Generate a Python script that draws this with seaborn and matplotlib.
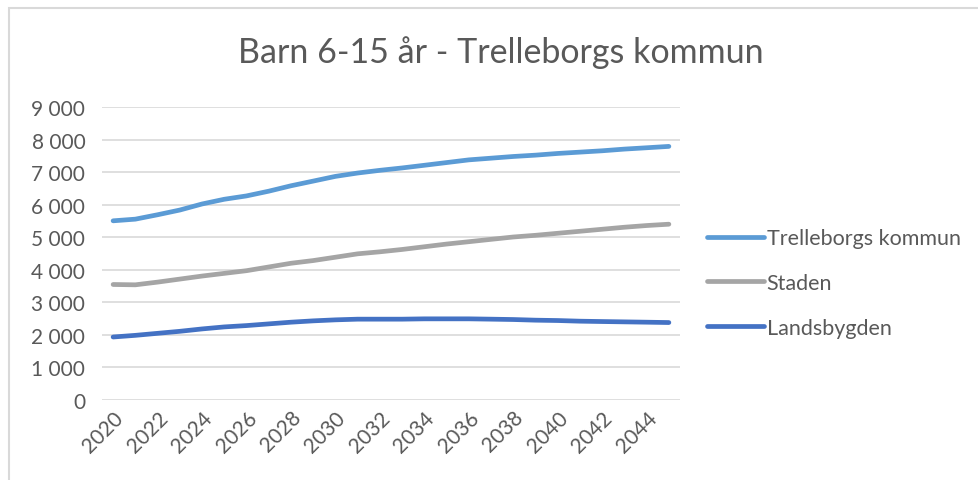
import numpy as np
import pandas as pd
import matplotlib
matplotlib.use("Agg")
import matplotlib.pyplot as plt
import seaborn as sns
from matplotlib.patches import Rectangle
from matplotlib.ticker import FuncFormatter

sns.set_theme(style="white")
plt.rcParams["font.family"] = ["Lato", "DejaVu Sans"]

# data
years = list(range(2020, 2046))
trelleborg = [5504, 5555, 5690, 5835, 6021, 6166, 6269, 6414, 6580, 6724, 6869, 6972, 7055,
              7128, 7210, 7293, 7376, 7428, 7480, 7521, 7573, 7614, 7655, 7707, 7748, 7790]
staden = [3548, 3538, 3621, 3714, 3807, 3890, 3972, 4086, 4200, 4283, 4386, 4490, 4552,
          4624, 4707, 4790, 4862, 4935, 5007, 5059, 5121, 5183, 5245, 5307, 5359, 5400]
landsbygden = [1935, 1986, 2048, 2110, 2183, 2245, 2286, 2338, 2390, 2431, 2462, 2483, 2483,
               2483, 2493, 2493, 2493, 2483, 2472, 2452, 2441, 2421, 2410, 2400, 2390, 2379]
series = ["Trelleborgs kommun", "Staden", "Landsbygden"]
colors = ["#5B9BD5", "#A5A5A5", "#4472C4"]

df = pd.DataFrame({"year": years, series[0]: trelleborg, series[1]: staden, series[2]: landsbygden})
long = df.melt(id_vars="year", var_name="serie", value_name="antal")
long["pos"] = long["year"] - years[0]

txt = "#595959"
fig = plt.figure(figsize=(9.79, 4.81), dpi=100)
fig.patches.append(Rectangle((9/979, -0.1), 1.1, 1 - 9/481 + 0.1, transform=fig.transFigure,
                             fill=False, edgecolor="#D9D9D9", linewidth=1.5))
ax = fig.add_axes([102/979, 1 - 401/481, (680 - 102)/979, (401 - 108)/481])

sns.lineplot(data=long, x="pos", y="antal", hue="serie", hue_order=series, palette=colors,
             linewidth=3.4, ax=ax, legend=False, solid_capstyle="round")

ax.set_xlim(-0.5, len(years) - 0.5)
ax.set_ylim(0, 9000)
ax.set_yticks(np.arange(0, 9001, 1000))
ax.yaxis.set_major_formatter(FuncFormatter(lambda v, p: f"{int(v):,}".replace(",", " ")))
ax.set_xticks(range(0, len(years), 2))
ax.set_xticklabels([str(y) for y in years[::2]], rotation=45, ha="right", rotation_mode="anchor")
ax.tick_params(axis="both", labelsize=15, colors=txt, length=0)
ax.tick_params(axis="x", pad=5)
ax.tick_params(axis="y", pad=12)
ax.grid(axis="y", color="#D9D9D9", linewidth=1.2)
ax.set_axisbelow(True)
for s in ax.spines.values():
    s.set_visible(False)
ax.set_xlabel("")
ax.set_ylabel("")

handles = [plt.Line2D([], [], color=c, linewidth=3.4, solid_capstyle="round") for c in colors]
fig.legend(handles, series, loc="center left", bbox_to_anchor=(688/979, 1 - 284/481),
           frameon=False, fontsize=15.5, labelcolor=txt, handlelength=2.65, handletextpad=0.1,
           labelspacing=1.15)

fig.text(0.512, 1 - 53/481, "Barn 6-15 år - Trelleborgs kommun", ha="center", va="center",
         fontsize=24.5, color=txt)

fig.savefig("out.png", dpi=100, facecolor="white")
